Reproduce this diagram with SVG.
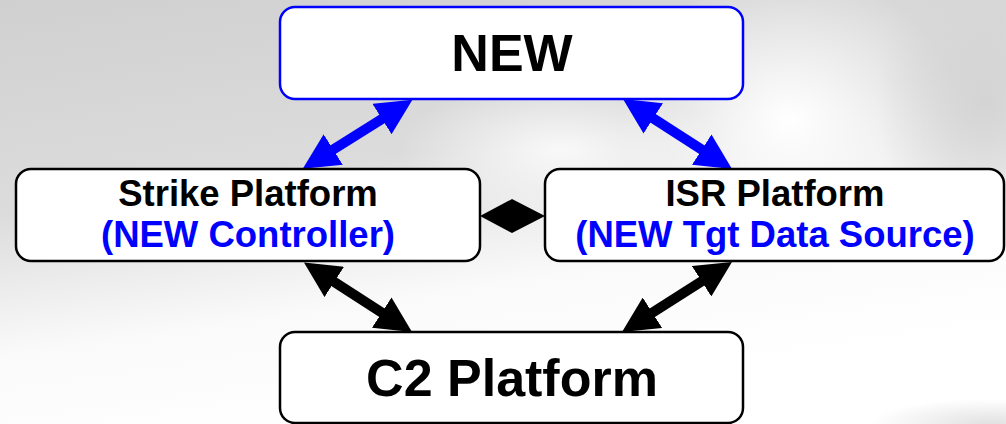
<svg xmlns="http://www.w3.org/2000/svg" width="1006" height="424" viewBox="0 0 1006 424">
<defs>
<style>
.box{fill:#fff;stroke:#000;stroke-width:2.5}
.boxb{fill:#fff;stroke:#0000ff;stroke-width:2.5}
.t{font-family:"Liberation Sans",Arial,sans-serif;font-weight:bold;text-anchor:middle}
.blk{fill:#000}
.blu{fill:#0000ff}
.cb{stroke:#0000ff;stroke-width:10;fill:none;marker-start:url(#hb);marker-end:url(#hb)}
.ck{stroke:#000;stroke-width:10;fill:none;marker-start:url(#hk);marker-end:url(#hk)}
</style>
<marker id="hb" markerUnits="userSpaceOnUse" markerWidth="36" markerHeight="36" viewBox="0 0 36 36" refX="16" refY="18" orient="auto-start-reverse"><path d="M0,0 L36,18 L0,36 z" fill="#0000ff"/></marker>
<marker id="hk" markerUnits="userSpaceOnUse" markerWidth="36" markerHeight="36" viewBox="0 0 36 36" refX="16" refY="18" orient="auto-start-reverse"><path d="M0,0 L36,18 L0,36 z" fill="#000"/></marker>
<linearGradient id="bg" x1="0" y1="0" x2="0.35" y2="1">
<stop offset="0" stop-color="#d0d0d0"/>
<stop offset="0.45" stop-color="#dcdcdc"/>
<stop offset="0.75" stop-color="#fafafa"/>
<stop offset="1" stop-color="#ffffff"/>
</linearGradient>
<radialGradient id="wh" cx="0.5" cy="0.5" r="0.5">
<stop offset="0" stop-color="#fff" stop-opacity="1"/>
<stop offset="1" stop-color="#fff" stop-opacity="0"/>
</radialGradient>
<radialGradient id="gr" cx="0.5" cy="0.5" r="0.5">
<stop offset="0" stop-color="#d4d4d4" stop-opacity="1"/>
<stop offset="1" stop-color="#d4d4d4" stop-opacity="0"/>
</radialGradient>
</defs>
<rect width="1006" height="424" fill="url(#bg)"/>
<ellipse cx="790" cy="120" rx="170" ry="150" fill="url(#wh)"/>
<ellipse cx="560" cy="150" rx="160" ry="70" fill="url(#wh)" opacity="0.8"/>
<ellipse cx="985" cy="100" rx="110" ry="150" fill="url(#gr)"/>
<ellipse cx="990" cy="424" rx="120" ry="25" fill="url(#gr)" opacity="0.7"/>
<g id="connectors">
<line class="cb" x1="395.5" y1="110.5" x2="319.7" y2="158.1"/>
<line class="cb" x1="639.8" y1="109.8" x2="715.2" y2="158.2"/>
<line class="ck" x1="320.8" y1="273.3" x2="395.2" y2="321.2"/>
<line class="ck" x1="715.1" y1="272.7" x2="638.9" y2="321.3"/>
<polygon points="480,216 512,199 545,216 512,233" fill="#000"/>
</g>
<g id="node-new">
<rect class="boxb" x="280" y="7" width="463" height="92" rx="15"/>
<text class="t blk" x="512" y="71" font-size="52">NEW</text>
</g>
<g id="node-strike">
<rect class="box" x="16" y="169" width="464" height="92" rx="15"/>
<text class="t blk" x="248" y="206" font-size="36.5">Strike Platform</text>
<text class="t blu" x="248" y="247" font-size="36.5">(NEW Controller)</text>
</g>
<g id="node-isr">
<rect class="box" x="545" y="169" width="459" height="92" rx="15"/>
<text class="t blk" x="775" y="206" font-size="36.5">ISR Platform</text>
<text class="t blu" x="775" y="247" font-size="36.5">(NEW Tgt Data Source)</text>
</g>
<g id="node-c2">
<rect class="box" x="280" y="332" width="463" height="91" rx="15"/>
<text class="t blk" x="512" y="396" font-size="52">C2 Platform</text>
</g>
</svg>
